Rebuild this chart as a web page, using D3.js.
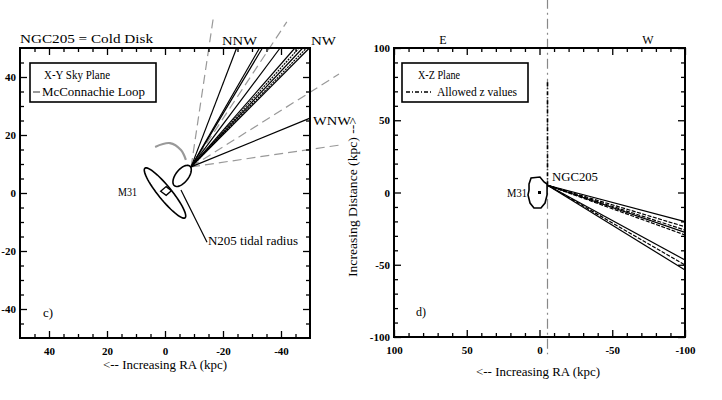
<!DOCTYPE html>
<html lang="en">
<head>
  <meta charset="UTF-8">
  <title>NGC205 orbit planes</title>
  <style>
    body { margin: 0; background: #fff; }
    svg text { font-family: "Liberation Serif", "DejaVu Serif", serif; fill: #000; }
    .tick text { font-size: 11px; font-weight: bold; }
    .tick line { stroke: #000; stroke-width: 1.3px; }
    .frame { fill: none; stroke: #000; stroke-width: 2px; }
    .fan { fill: none; stroke: #000; stroke-width: 1.2px; }
    .guide { fill: none; stroke: #999; stroke-width: 1.2px; stroke-dasharray: 9,5; }
    .lbl { font-size: 12px; }
  </style>
</head>
<body>
  <svg id="chart" width="722" height="400"></svg>

  <script src="https://d3js.org/d3.v7.min.js"></script>

  <script>
    // ---- panel c) X-Y sky plane ----
    const leftOrigin = [-9, 9];                      // NGC205 position where the fan starts
    const nnwTopX = [-24.7, -32.6, -33.6, -39.7];    // solid lines ending on Y = 50
    const nwBandTopX = [-44.8, -46.2, -47.5, -48.8, -49.8]; // hatched band ending on Y = 50
    const wnwRightY = [25.8];                        // line ending on X = -50
    const guideEndX = [-16.6, -42, -60, -60];        // grey dashed guides (not clipped)
    const guideEndY = [60, 59, 41, 16.5];
    const loopX = [3.4, -1.7, -5.5, -7.2];           // McConnachie loop
    const loopY = [15.9, 17.2, 14.8, 11.4];
    const m31Ellipse = { cx: 0, cy: 0, a: 11, b: 2.3, angle: 51 };
    const n205Ellipse = { cx: -5.9, cy: 5.9, a: 4.3, b: 2.2, angle: 128 };
    const leftTicks = [-40, -20, 0, 20, 40];

    // ---- panel d) X-Z plane ----
    const rightOrigin = [-5.5, 5];
    const zEndY = [-20.2, -23.7, -26, -27.6, -29.4, -46.7, -50.2, -53.6]; // lines ending on X = -100
    const zDashed = [false, true, true, false, true, false, true, false];
    const m31PolyX = [7.2, 5.8, -0.3, -3.1, -5.2, -5.2, -3.8, -1.0, 3.8, 6.5, 7.9, 7.2];
    const m31PolyY = [5.9, 10, 10.7, 7.3, 5.9, -1.7, -7.3, -10.7, -10.7, -7.3, -1.7, 1.7];
    const allowedZ = [5, 77];
    const raLineX = -5.5;
    const rightTicks = [-100, -50, 0, 50, 100];

    const svg = d3.select('#chart');

    const xL = d3.scaleLinear().domain([50, -50]).range([20, 310]);
    const yL = d3.scaleLinear().domain([-50, 50]).range([338, 48]);
    const xR = d3.scaleLinear().domain([100, -100]).range([394, 685]);
    const yR = d3.scaleLinear().domain([-100, 100]).range([337, 48]);

    const fmt = d => String(d);

    function drawAxes(x, y, major, minorStep, cls) {
      const g = svg.append('g').attr('class', cls);
      const [x0, x1] = x.domain(), [y0, y1] = y.domain();
      const minorX = d3.range(Math.min(x0, x1) + minorStep, Math.max(x0, x1), minorStep).filter(v => !major.includes(v));
      const minorY = d3.range(Math.min(y0, y1) + minorStep, Math.max(y0, y1), minorStep).filter(v => !major.includes(v));
      const bottom = y.range()[0], top = y.range()[1];
      const left = x.range()[0], right = x.range()[1];

      const add = (axis, tr) => {
        const a = g.append('g').attr('transform', tr).call(axis);
        a.select('.domain').remove();
      };
      add(d3.axisBottom(x).tickValues(major).tickSize(-7).tickPadding(9).tickFormat(fmt), `translate(0,${bottom})`);
      add(d3.axisBottom(x).tickValues(minorX).tickSize(-4).tickFormat(''), `translate(0,${bottom})`);
      add(d3.axisTop(x).tickValues(major).tickSize(-7).tickFormat(''), `translate(0,${top})`);
      add(d3.axisTop(x).tickValues(minorX).tickSize(-4).tickFormat(''), `translate(0,${top})`);
      add(d3.axisLeft(y).tickValues(major).tickSize(-7).tickPadding(4).tickFormat(fmt), `translate(${left},0)`);
      add(d3.axisLeft(y).tickValues(minorY).tickSize(-4).tickFormat(''), `translate(${left},0)`);
      add(d3.axisRight(y).tickValues(major).tickSize(-7).tickFormat(''), `translate(${right},0)`);
      add(d3.axisRight(y).tickValues(minorY).tickSize(-4).tickFormat(''), `translate(${right},0)`);

      g.append('rect').attr('class', 'frame')
        .attr('x', left).attr('y', top)
        .attr('width', right - left).attr('height', bottom - top);
    }

    function ellipsePoints(e) {
      const r = e.angle * Math.PI / 180;
      return d3.range(0, 361, 6).map(t => {
        const u = t * Math.PI / 180;
        const px = e.a * Math.cos(u), py = e.b * Math.sin(u);
        return [e.cx + px * Math.cos(r) - py * Math.sin(r), e.cy + px * Math.sin(r) + py * Math.cos(r)];
      });
    }

    // label helper: text squeezed/stretched to the width seen in the original
    function label(g, x, y, str, width, anchor) {
      const t = g.append('text').attr('class', 'lbl').attr('x', x).attr('y', y).text(str);
      if (anchor) t.attr('text-anchor', anchor);
      if (width) t.attr('textLength', width).attr('lengthAdjust', 'spacingAndGlyphs');
      return t;
    }

    // ================= left panel =================
    const lineL = d3.line().x(d => xL(d[0])).y(d => yL(d[1]));
    const pL = svg.append('g');

    // grey guides
    guideEndX.forEach((gx, i) => {
      pL.append('path').attr('class', 'guide')
        .attr('d', lineL([leftOrigin, [gx, guideEndY[i]]]));
    });

    // McConnachie loop
    pL.append('path')
      .attr('d', d3.line().x((d, i) => xL(loopX[i])).y((d, i) => yL(loopY[i])).curve(d3.curveCatmullRom)(loopX))
      .attr('fill', 'none').attr('stroke', '#999').attr('stroke-width', 2.2);

    // solid fan
    nnwTopX.forEach(tx => {
      pL.append('path').attr('class', 'fan').attr('d', lineL([leftOrigin, [tx, 50]]));
    });
    nwBandTopX.forEach((tx, i) => {
      pL.append('path').attr('class', 'fan')
        .attr('stroke-dasharray', i % 2 ? '2,1' : null)
        .attr('d', lineL([leftOrigin, [tx, 50]]));
    });
    wnwRightY.forEach(ry => {
      pL.append('path').attr('class', 'fan').attr('d', lineL([leftOrigin, [-50, ry]]));
    });

    // M31 and NGC205 tidal radius
    [m31Ellipse, n205Ellipse].forEach(e => {
      pL.append('path').attr('d', lineL(ellipsePoints(e)) + 'Z')
        .attr('fill', 'none').attr('stroke', '#000').attr('stroke-width', 1.6);
    });
    pL.append('path')
      .attr('d', lineL([[1.5, 0.6], [-0.4, 2.2], [-2.2, 0.8], [-0.4, -0.8]]) + 'Z')
      .attr('fill', 'none').attr('stroke', '#000').attr('stroke-width', 1.3);
    pL.append('path').attr('class', 'fan').attr('d', lineL([[-5.5, 1], [-14.5, -17]]));

    drawAxes(xL, yL, leftTicks, 5, 'axL');

    // left labels
    label(pL, 20, 43, 'NGC205 = Cold Disk', 133);
    label(pL, 222, 45, 'NNW', 35);
    label(pL, 311, 45, 'NW', 25);
    label(pL, 313, 125, 'WNW', 38);
    label(pL, 137, 196, 'M31', 19, 'end');
    label(pL, 208, 245, 'N205 tidal radius', 90);
    label(pL, 43, 317, 'c)', 10);
    label(pL, 103, 369, '<-- Increasing RA (kpc)', 124);

    // left legend
    pL.append('rect').attr('x', 30).attr('y', 63).attr('width', 126).attr('height', 39)
      .attr('fill', '#fff').attr('stroke', '#000').attr('stroke-width', 1.6);
    label(pL, 44, 79, 'X-Y Sky Plane', 66);
    pL.append('line').attr('x1', 33).attr('x2', 40).attr('y1', 92).attr('y2', 92)
      .attr('stroke', '#555').attr('stroke-width', 1.2);
    label(pL, 42, 96, 'McConnachie Loop', 103);

    // ================= right panel =================
    const lineR = d3.line().x(d => xR(d[0])).y(d => yR(d[1]));
    const pR = svg.append('g');

    pR.append('path').attr('d', lineR([[raLineX, 134], [raLineX, -112]]))
      .attr('fill', 'none').attr('stroke', '#888').attr('stroke-width', 1.2)
      .attr('stroke-dasharray', '10,4,2,4');
    pR.append('path').attr('d', lineR([[raLineX, allowedZ[0]], [raLineX, allowedZ[1]]]))
      .attr('fill', 'none').attr('stroke', '#000').attr('stroke-width', 1.6)
      .attr('stroke-dasharray', '4,2,1,2');

    zEndY.forEach((ey, i) => {
      pR.append('path').attr('class', 'fan')
        .attr('stroke-width', 1.5)
        .attr('stroke-dasharray', zDashed[i] ? '4,1.5' : null)
        .attr('d', lineR([rightOrigin, [-100, ey]]));
    });

    pR.append('path')
      .attr('d', lineR(m31PolyX.map((v, i) => [v, m31PolyY[i]])) + 'Z')
      .attr('fill', 'none').attr('stroke', '#000').attr('stroke-width', 1.6);
    pR.append('rect').attr('x', xR(0) - 1.5).attr('y', yR(0) - 1.5).attr('width', 3).attr('height', 3).attr('fill', '#000');

    drawAxes(xR, yR, rightTicks, 10, 'axR');

    label(pR, 443, 44, 'E', null, 'middle');
    label(pR, 648, 44, 'W', null, 'middle');
    label(pR, 507, 197, 'M31', 20);
    label(pR, 552, 181, 'NGC205', 46);
    label(pR, 416, 316, 'd)', 10);
    label(pR, 476, 376, '<-- Increasing RA (kpc)', 124);
    pR.append('text').attr('class', 'lbl')
      .attr('transform', 'translate(357,277) rotate(-90)')
      .attr('textLength', 160).attr('lengthAdjust', 'spacingAndGlyphs')
      .text('Increasing Distance (kpc) -->');

    // right legend
    pR.append('rect').attr('x', 402).attr('y', 63).attr('width', 126).attr('height', 39)
      .attr('fill', '#fff').attr('stroke', '#000').attr('stroke-width', 1.6);
    label(pR, 418, 79, 'X-Z Plane', 42);
    pR.append('line').attr('x1', 406).attr('x2', 431).attr('y1', 92).attr('y2', 92)
      .attr('stroke', '#000').attr('stroke-width', 1.3).attr('stroke-dasharray', '4,2,1,2');
    label(pR, 437, 96, 'Allowed z values', 80);
  </script>
</body>
</html>
